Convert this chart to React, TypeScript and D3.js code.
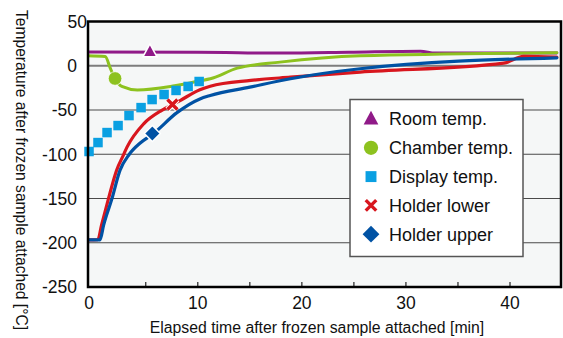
import React from "react";
import * as d3 from "d3";

const W = 563;
const H = 338;

// Room temp.
const roomT = [-0.55, 10, 18, 24.5, 31.4, 32.8, 44.5];
const roomV = [15.4, 15.3, 14.3, 15.2, 16.4, 14.3, 14.5];
// Chamber temp.
const chamberT = [-0.55, 1.1, 1.6, 2.05, 2.7, 4.2, 7.6, 10.2, 11.2, 13.8, 17.9, 25.6, 44.5];
const chamberV = [11.3, 10.5, -3, -14.4, -23.4, -27.4, -23, -17, -14.7, -2.7, 4.1, 11.3, 14.7];
// Display temp. (markers only)
const displayT = [-0.45, 0.41, 1.28, 2.34, 3.39, 4.55, 5.61, 6.76, 7.91, 9.07, 10.13];
const displayV = [-96.9, -86.8, -75.5, -67.6, -56.3, -47.3, -38.2, -32.5, -27.9, -23.4, -17.8];
// Holder lower
const lowerT = [-0.55, 0.4, 0.75, 1.4, 2.2, 2.85, 3.2, 4.8, 6.5, 7.6, 8.3, 10.2, 11.2, 15.1, 18.9, 25.6, 39.4, 41.3, 44.5];
const lowerV = [-196.8, -196.5, -180, -151, -118, -101, -92, -65.6, -50.6, -43.8, -39.3, -27.1, -23.1, -16.6, -12.9, -7.2, 2.9, 10.5, 9.7];
// Holder upper
const upperT = [-0.55, 0.6, 0.95, 1.73, 2.53, 3.42, 4.5, 5.73, 8.0, 10.2, 11.2, 15.0, 18.9, 25.6, 44.5];
const upperV = [-196.8, -196.8, -180, -151, -118, -100, -87, -76.6, -53, -37.5, -33.6, -24.2, -14.7, -3.4, 9.0];

// single markers on the lines
const roomMark = [5.4, 16];
const chamberMark = [2.05, -14.4];
const lowerMark = [7.56, -43.8];
const upperMark = [5.63, -76.6];

const yTicks = [50, 0, -50, -100, -150, -200, -250];
const xTicks = [0, 10, 20, 30, 40];
const xMinor = [5, 10, 15, 20, 25, 30, 35, 40];
const gridLines = [-50, -100, -150, -200];

const legendLabels = ["Room temp.", "Chamber temp.", "Display temp.", "Holder lower", "Holder upper"];

const C_ROOM = "#901a88";
const C_CHAMBER = "#8dc21f";
const C_DISPLAY = "#0aa0e2";
const C_LOWER = "#d8161e";
const C_UPPER = "#0052a4";

const FONT = "'Liberation Sans', Arial, Helvetica, sans-serif";

const left = 88, right = 561, top = 21.5, bottom = 287;
const x = d3.scaleLinear().domain([-0.55, 44.9]).range([left, right]);
const y = d3.scaleLinear().domain([-250, 50]).range([bottom, top]);

const zip = (t: number[], v: number[]) => t.map((d, i) => [d, v[i]] as [number, number]);
const line = d3
  .line<[number, number]>()
  .x((d) => x(d[0]))
  .y((d) => y(d[1]))
  .curve(d3.curveMonotoneX);

function Marker({ kind, cx, cy, s = 1, outline = true }: { kind: string; cx: number; cy: number; s?: number; outline?: boolean }) {
  const sw = outline ? 1.5 : 0;
  if (kind === "tri") {
    const h = 13 * s, w = 14 * s;
    const p = `${cx},${cy - h * 0.6} ${cx + w / 2},${cy + h * 0.4} ${cx - w / 2},${cy + h * 0.4}`;
    return <polygon points={p} fill={C_ROOM} stroke="#fff" strokeWidth={sw} />;
  }
  if (kind === "circle") {
    return <circle cx={cx} cy={cy} r={6.8 * s} fill={C_CHAMBER} stroke="#fff" strokeWidth={sw * 0.5} />;
  }
  if (kind === "square") {
    const a = 9.5 * s;
    return <rect x={cx - a / 2} y={cy - a / 2} width={a} height={a} fill={C_DISPLAY} />;
  }
  if (kind === "x") {
    const a = 5 * s;
    const dd = `M${cx - a},${cy - a}L${cx + a},${cy + a}M${cx + a},${cy - a}L${cx - a},${cy + a}`;
    return (
      <g>
        {outline && <path d={dd} stroke="#fff" strokeWidth={5.5} />}
        <path d={dd} stroke={C_LOWER} strokeWidth={3.4} />
      </g>
    );
  }
  const a = 8 * s;
  const p = `${cx},${cy - a} ${cx + a},${cy} ${cx},${cy + a} ${cx - a},${cy}`;
  return <polygon points={p} fill={C_UPPER} stroke="#fff" strokeWidth={sw} />;
}

export default function App() {
  const kinds = ["tri", "circle", "square", "x", "diamond"];
  return (
    <svg width={W} height={H} style={{ position: "absolute", left: 0, top: 0, fontFamily: FONT }}>
      <rect x={0} y={0} width={W} height={H} fill="#fff" />
      <defs>
        <clipPath id="plot">
          <rect x={left} y={top} width={right - left} height={bottom - top} />
        </clipPath>
      </defs>
      <rect x={left} y={top} width={right - left} height={bottom - top} fill="#f5f7f7" />
      {gridLines.map((g) => (
        <line key={g} x1={left} x2={right} y1={y(g)} y2={y(g)} stroke="#4a4a4a" strokeWidth={1.2} />
      ))}
      <line x1={left} x2={right} y1={y(0)} y2={y(0)} stroke="#7d7d7d" strokeWidth={2} />
      {xMinor.map((t) => (
        <line key={t} x1={x(t)} x2={x(t)} y1={bottom} y2={bottom - 5} stroke="#222" strokeWidth={1.2} />
      ))}
      <g clipPath="url(#plot)" fill="none" strokeLinejoin="round" strokeLinecap="round">
        <path d={line(zip(roomT, roomV)) || ""} stroke={C_ROOM} strokeWidth={3} />
        <path d={line(zip(chamberT, chamberV)) || ""} stroke={C_CHAMBER} strokeWidth={3} />
        <path d={line(zip(lowerT, lowerV)) || ""} stroke={C_LOWER} strokeWidth={3.2} />
        <path d={line(zip(upperT, upperV)) || ""} stroke={C_UPPER} strokeWidth={3.2} />
      </g>
      {displayT.map((t, i) => (
        <Marker key={i} kind="square" cx={x(t)} cy={y(displayV[i])} />
      ))}
      <Marker kind="tri" cx={x(roomMark[0])} cy={y(roomMark[1])} />
      <Marker kind="circle" cx={x(chamberMark[0])} cy={y(chamberMark[1])} />
      <Marker kind="x" cx={x(lowerMark[0])} cy={y(lowerMark[1])} />
      <Marker kind="diamond" cx={x(upperMark[0])} cy={y(upperMark[1])} />
      <rect x={left} y={top} width={right - left} height={bottom - top} fill="none" stroke="#000" strokeWidth={2.5} />
      {/* y tick labels */}
      {yTicks.map((v) => (
        <text key={v} x={v === 50 ? 87 : 77} y={y(v)} dy="0.36em" textAnchor="end" fontSize={17.5} fill="#111">
          {v}
        </text>
      ))}
      {xTicks.map((t) => (
        <text key={t} x={t === 0 ? x(t) - 4.5 : x(t)} y={308.5} textAnchor="middle" fontSize={17.5} fill="#111">
          {t}
        </text>
      ))}
      <text x={317} y={333} textAnchor="middle" fontSize={15.8} fill="#111">
        Elapsed time after frozen sample attached [min]
      </text>
      <text transform="translate(16,170) rotate(90)" textAnchor="middle" fontSize={15.6} fill="#111">
        Temperature after frozen sample attached [°C]
      </text>
      {/* legend */}
      <rect x={350} y={99.5} width={173} height={157} fill="#fff" stroke="#555" strokeWidth={1.5} />
      {legendLabels.map((lab, i) => {
        const cy = 119 + i * 28.8;
        return (
          <g key={lab}>
            <Marker kind={kinds[i]} cx={371} cy={cy} s={kinds[i] === "square" ? 1.15 : 1.05} outline={false} />
            <text x={389} y={cy} dy="0.36em" fontSize={18} fill="#111">
              {lab}
            </text>
          </g>
        );
      })}
    </svg>
  );
}
